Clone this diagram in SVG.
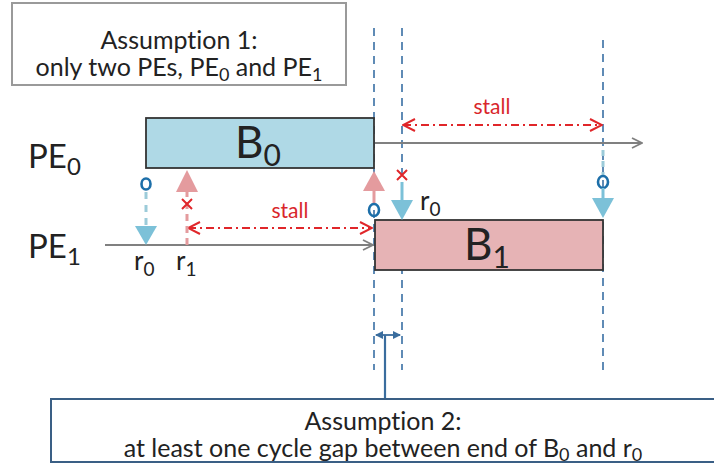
<svg xmlns="http://www.w3.org/2000/svg" width="714" height="465" viewBox="0 0 714 465">
<defs>
<style>
.t{font-family:Lato,"Open Sans","Liberation Sans",sans-serif;fill:#222;font-variant-ligatures:none}
.note{font-size:25px;text-anchor:middle}
.pe{font-size:33px}
.blk{font-size:44px;text-anchor:middle}
.lab{font-size:26px}
.stall{font-family:Lato,"Liberation Sans",sans-serif;font-size:21px;fill:#d9262b;text-anchor:middle}
.vdash{stroke:#4f7fae;stroke-width:1.8;stroke-dasharray:8,6;fill:none}
.tl{stroke:#808080;stroke-width:2;fill:none}
.sarr{stroke:#e0262a;stroke-width:2;stroke-dasharray:8,4,2,4;fill:none}
.ring{fill:none;stroke:#1d6fa9;stroke-width:2.6}
.btri{fill:#7cc1d8}
.ptri{fill:#e49b9e}
.xm{stroke:#e0262a;stroke-width:2}
</style>
<marker id="open" viewBox="0 0 12 12" refX="11" refY="6" markerWidth="12" markerHeight="12" markerUnits="userSpaceOnUse" orient="auto-start-reverse">
<path d="M1,1 L11,6 L1,11" fill="none" stroke="#808080" stroke-width="1.8"/>
</marker>
<marker id="redopen" viewBox="0 0 14 14" refX="13" refY="7" markerWidth="14" markerHeight="14" markerUnits="userSpaceOnUse" orient="auto-start-reverse">
<path d="M1,1 L13,7 L1,13" fill="none" stroke="#e0262a" stroke-width="2"/>
</marker>
<marker id="small" viewBox="0 0 8 8" refX="7" refY="4" markerWidth="8" markerHeight="8" markerUnits="userSpaceOnUse" orient="auto-start-reverse">
<path d="M0,0 L8,4 L0,8 Z" fill="#3a6d9e"/>
</marker>
</defs>
<rect width="714" height="465" fill="#ffffff"/>

<g id="assumption1">
<rect x="12" y="3" width="334" height="82" fill="#fff" stroke="#9a9a9a" stroke-width="2"/>
<text class="t note" x="179" y="49">Assumption 1:</text>
<text class="t note" x="179" y="76">only two PEs, PE<tspan font-size="18" dy="5">0</tspan><tspan dy="-5"> and PE</tspan><tspan font-size="18" dy="5">1</tspan></text>
</g>

<g id="labels">
<text class="t pe" x="28" y="168">PE<tspan font-size="24" dy="7">0</tspan></text>
<text class="t pe" x="28" y="258">PE<tspan font-size="24" dy="7">1</tspan></text>
</g>

<g id="connectors">
<line class="vdash" x1="374" y1="28" x2="374" y2="370"/>
<line class="vdash" x1="402" y1="28" x2="402" y2="370"/>
<line class="vdash" x1="603" y1="40" x2="603" y2="370"/>
<line class="tl" x1="375" y1="143" x2="642" y2="143" marker-end="url(#open)"/>
<line class="tl" x1="105" y1="245" x2="373" y2="245" marker-end="url(#open)"/>
<line class="sarr" x1="403" y1="125" x2="602" y2="125" marker-start="url(#redopen)" marker-end="url(#redopen)"/>
<line class="sarr" x1="188" y1="228" x2="372" y2="228" marker-start="url(#redopen)" marker-end="url(#redopen)"/>
<line x1="376" y1="335" x2="400" y2="335" stroke="#3a6d9e" stroke-width="1.8" marker-start="url(#small)" marker-end="url(#small)"/>
<line x1="385" y1="335" x2="385" y2="399" stroke="#3a6d9e" stroke-width="2.2"/>
</g>

<g id="B0">
<rect x="146" y="118" width="228" height="50" fill="#afd9e6" stroke="#333" stroke-width="1.8"/>
<text class="t blk" x="258" y="158">B<tspan font-size="30" dy="8">0</tspan></text>
</g>

<g id="B1">
<rect x="375" y="220" width="228" height="50" fill="#e6b3b5" stroke="#333" stroke-width="1.8"/>
<text class="t blk" x="487" y="260">B<tspan font-size="30" dy="8">1</tspan></text>
</g>

<g id="events">
<line x1="146" y1="192" x2="146" y2="227" stroke="#9ccbd9" stroke-width="3" stroke-dasharray="7,6"/>
<ellipse class="ring" cx="146" cy="184" rx="4.5" ry="5.5"/>
<polygon class="btri" points="135,226 157,226 146,245"/>
<text class="t lab" x="134" y="270">r<tspan font-size="19" dy="6">0</tspan></text>
<line x1="187" y1="190" x2="187" y2="245" stroke="#e49b9e" stroke-width="3" stroke-dasharray="7,5"/>
<polygon class="ptri" points="187,170 176,192 198,192"/>
<path class="xm" d="M182,199 L192,209 M192,199 L182,209"/>
<text class="t lab" x="176" y="270">r<tspan font-size="19" dy="6">1</tspan></text>
<line x1="374" y1="188" x2="374" y2="203" stroke="#e49b9e" stroke-width="3"/>
<polygon class="ptri" points="374,171 363,191 385,191"/>
<ellipse class="ring" cx="374" cy="210" rx="5" ry="6"/>
<path class="xm" d="M397,170 L407,180 M407,170 L397,180"/>
<line x1="402" y1="182" x2="402" y2="202" stroke="#7cc1d8" stroke-width="3"/>
<polygon class="btri" points="391,200 413,200 402,220"/>
<text class="t lab" x="420" y="210">r<tspan font-size="19" dy="6">0</tspan></text>
<line x1="603" y1="150" x2="603" y2="176" stroke="#9ccbd9" stroke-width="3" stroke-dasharray="6,5"/>
<ellipse class="ring" cx="603" cy="182" rx="5" ry="6"/>
<line x1="603" y1="188" x2="603" y2="200" stroke="#7cc1d8" stroke-width="3"/>
<polygon class="btri" points="592,198 614,198 603,218"/>
<text class="stall" x="492" y="114">stall</text>
<text class="stall" x="290" y="218">stall</text>
</g>

<g id="assumption2">
<rect x="51" y="399" width="670" height="63" fill="#fff" stroke="#3a5f85" stroke-width="2"/>
<text class="t note" x="383" y="430">Assumption 2:</text>
<text class="t note" x="383" y="457">at least one cycle gap between  end of B<tspan font-size="18" dy="4">0</tspan><tspan dy="-4"> and r</tspan><tspan font-size="18" dy="4">0</tspan></text>
</g>
</svg>
